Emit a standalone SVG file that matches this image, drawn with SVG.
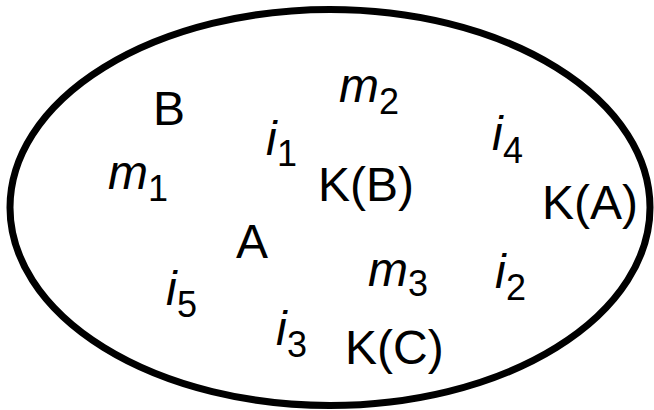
<svg xmlns="http://www.w3.org/2000/svg" width="654" height="410" viewBox="0 0 654 410">
<style>
.t{font-family:"Liberation Sans",Arial,sans-serif;fill:#000;font-size:48px}
.it{font-style:italic}
.sub{font-size:36px;font-style:normal}
</style>
<rect width="654" height="410" fill="#fff"/>
<g id="set"><ellipse cx="330" cy="207.5" rx="320" ry="198" fill="none" stroke="#000" stroke-width="7"/></g>
<g id="B"><text class="t" x="153" y="125">B</text></g>
<g id="A"><text class="t" x="236" y="258">A</text></g>
<g id="KB"><text class="t" x="318" y="201">K(B)</text></g>
<g id="KA"><text class="t" x="542" y="219">K(A)</text></g>
<g id="KC"><text class="t" x="345" y="364">K(C)</text></g>
<g id="m1"><text class="t it" x="108" y="189">m<tspan class="sub" x="148" y="201">1</tspan></text></g>
<g id="m2"><text class="t it" x="339" y="102">m<tspan class="sub" x="379" y="114">2</tspan></text></g>
<g id="m3"><text class="t it" x="368" y="286">m<tspan class="sub" x="408" y="296">3</tspan></text></g>
<g id="i1"><text class="t it" x="266" y="155">i<tspan class="sub" x="277" y="166">1</tspan></text></g>
<g id="i4"><text class="t it" x="492" y="150">i<tspan class="sub" x="503" y="163">4</tspan></text></g>
<g id="i2"><text class="t it" x="495" y="288">i<tspan class="sub" x="506" y="300">2</tspan></text></g>
<g id="i5"><text class="t it" x="166" y="305">i<tspan class="sub" x="177" y="317">5</tspan></text></g>
<g id="i3"><text class="t it" x="276" y="345">i<tspan class="sub" x="287" y="357">3</tspan></text></g>
</svg>
